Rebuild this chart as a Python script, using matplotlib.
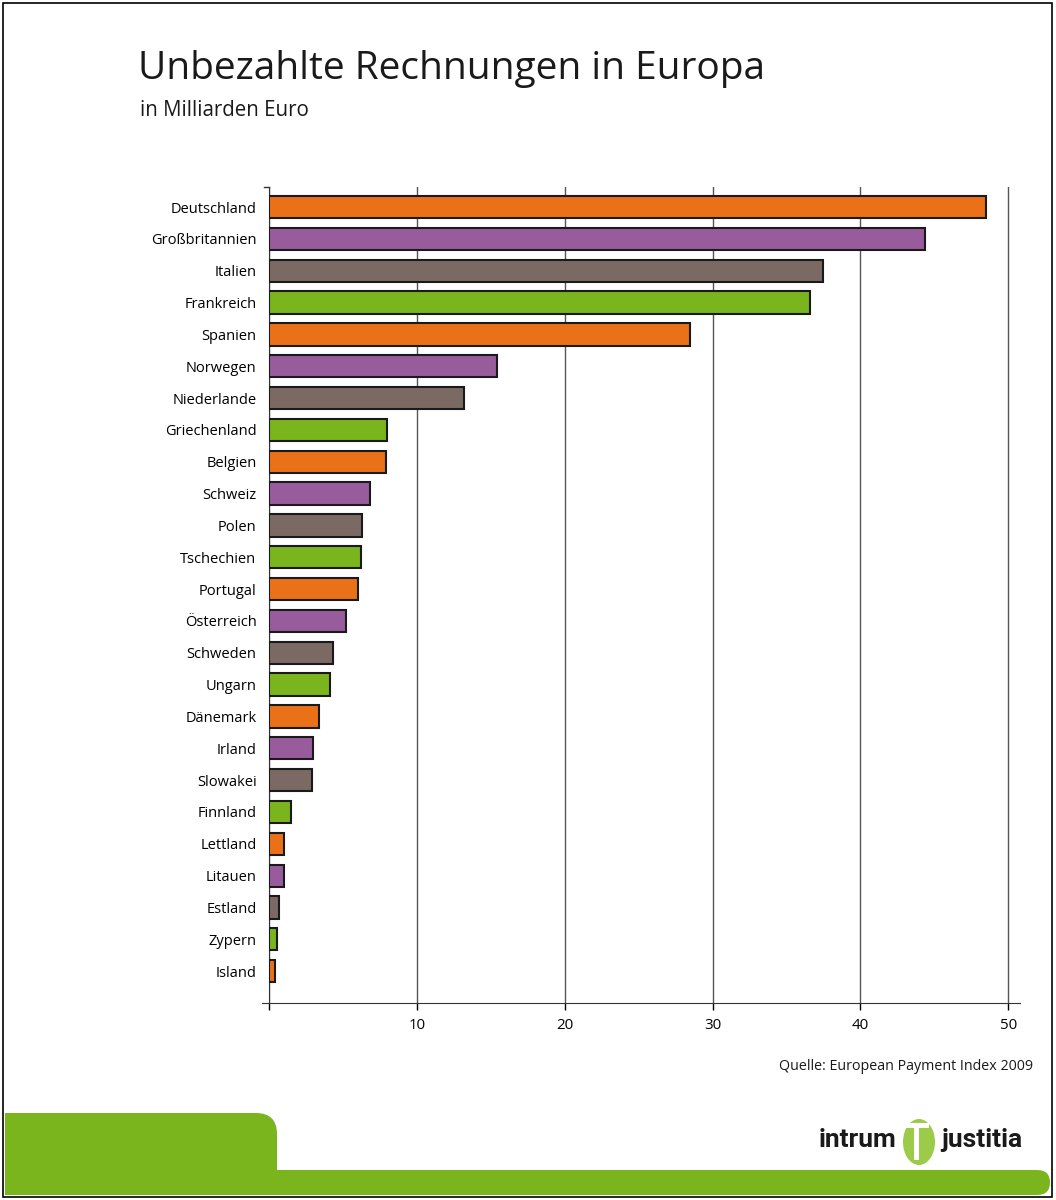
import matplotlib.pyplot as plt
from matplotlib.patches import FancyBboxPatch, Rectangle, Ellipse

laender = ["Deutschland", "Großbritannien", "Italien", "Frankreich", "Spanien",
           "Norwegen", "Niederlande", "Griechenland", "Belgien", "Schweiz",
           "Polen", "Tschechien", "Portugal", "Österreich", "Schweden",
           "Ungarn", "Dänemark", "Irland", "Slowakei", "Finnland",
           "Lettland", "Litauen", "Estland", "Zypern", "Island"]
werte = [48.5, 44.4, 37.5, 36.6, 28.5,
         15.4, 13.2, 8.0, 7.9, 6.8,
         6.3, 6.2, 6.0, 5.2, 4.3,
         4.1, 3.4, 3.0, 2.9, 1.5,
         1.0, 1.0, 0.65, 0.55, 0.4]
ticks_x = [0, 10, 20, 30, 40, 50]
tick_labels = ["", "10", "20", "30", "40", "50"]

palette = ["#EB7118", "#985C9C", "#7A6A63", "#7AB51D"]
farben = [palette[i % 4] for i in range(len(laender))]

plt.rcParams['font.family'] = ['Open Sans', 'DejaVu Sans']

fig = plt.figure(figsize=(10.56, 12), dpi=100)
W, H = 1056, 1200

def fx(px):
    return px / W

def fy(py):
    return 1 - py / H

# Rahmen
fig.add_artist(Rectangle((fx(3), fy(1197)), fx(1049), 1194 / H, transform=fig.transFigure,
                         fill=False, edgecolor="black", linewidth=1.2))

fig.text(fx(138), fy(69), "Unbezahlte Rechnungen in Europa", fontsize=28, va="center",
         ha="left", color="#1a1a1a")
fig.text(fx(140), fy(111), "in Milliarden Euro", fontsize=14.8, va="center", ha="left",
         color="#1a1a1a")

ax = fig.add_axes([fx(269), fy(1003), fx(1020 - 269), (1003 - 187) / H])
y = list(range(len(laender)))
ax.barh(y, werte, height=0.7, color=farben, edgecolor="#1a1a1a", linewidth=1.5, zorder=3)
ax.set_ylim(len(laender) - 1 + 1.0, -0.63)
ax.set_xlim(0, 50.8)
ax.set_yticks(y)
ax.set_yticklabels(laender, fontsize=10.5)
ax.set_xticks(ticks_x)
ax.set_xticklabels(tick_labels, fontsize=10.8)
ax.tick_params(axis="y", length=0, pad=9)
ax.tick_params(axis="x", length=5, direction="out", width=1, pad=6)
ax.xaxis.grid(True, color="#555555", linewidth=1, zorder=0)
ax.set_axisbelow(True)
for s in ["top", "right"]:
    ax.spines[s].set_visible(False)
ax.spines["left"].set_color("#333333")
ax.spines["bottom"].set_color("#333333")
ax.spines["bottom"].set_bounds(-0.5, 50.8)
ax.plot([-0.35, 0], [-0.63, -0.63], color="#333333", linewidth=1, clip_on=False)

fig.text(fx(1033), fy(1067), "Quelle: European Payment Index 2009", fontsize=10.3,
         ha="right", va="center", color="#1a1a1a")

# Fusszeile
gruen = "#7AB51D"
fig.add_artist(FancyBboxPatch((fx(5), fy(1195)), fx(272), 82 / H, transform=fig.transFigure,
                              boxstyle="round,pad=0,rounding_size=0.02", facecolor=gruen,
                              edgecolor="none", mutation_aspect=W / H))
fig.add_artist(Rectangle((fx(5), fy(1195)), fx(40), 82 / H, transform=fig.transFigure,
                         facecolor=gruen, edgecolor="none"))
fig.add_artist(Rectangle((fx(5), fy(1195)), fx(272), 30 / H, transform=fig.transFigure,
                         facecolor=gruen, edgecolor="none"))
fig.add_artist(FancyBboxPatch((fx(250), fy(1195)), fx(800), 25 / H, transform=fig.transFigure,
                              boxstyle="round,pad=0,rounding_size=0.012", facecolor=gruen,
                              edgecolor="none", mutation_aspect=W / H))
fig.add_artist(Rectangle((fx(250), fy(1195)), fx(780), 12 / H, transform=fig.transFigure,
                         facecolor=gruen, edgecolor="none"))

fig.text(fx(896), fy(1140), "intrum", fontsize=19, fontweight="bold", ha="right",
         va="center", color="#1a1a1a", family="Roboto")
fig.text(fx(941), fy(1140), "justitia", fontsize=19, fontweight="bold", ha="left",
         va="center", color="#1a1a1a", family="Roboto")
fig.add_artist(Ellipse((fx(919), fy(1142)), fx(32), 46 / H, transform=fig.transFigure,
                       facecolor="#9CCB4A", edgecolor="none"))
fig.add_artist(Rectangle((fx(901), fy(1128)), fx(28), 5 / H, transform=fig.transFigure,
                         facecolor="white", edgecolor="none"))
fig.add_artist(Rectangle((fx(914), fy(1160)), fx(5), 32 / H, transform=fig.transFigure,
                         facecolor="white", edgecolor="none"))

fig.savefig("out.png", dpi=100)
